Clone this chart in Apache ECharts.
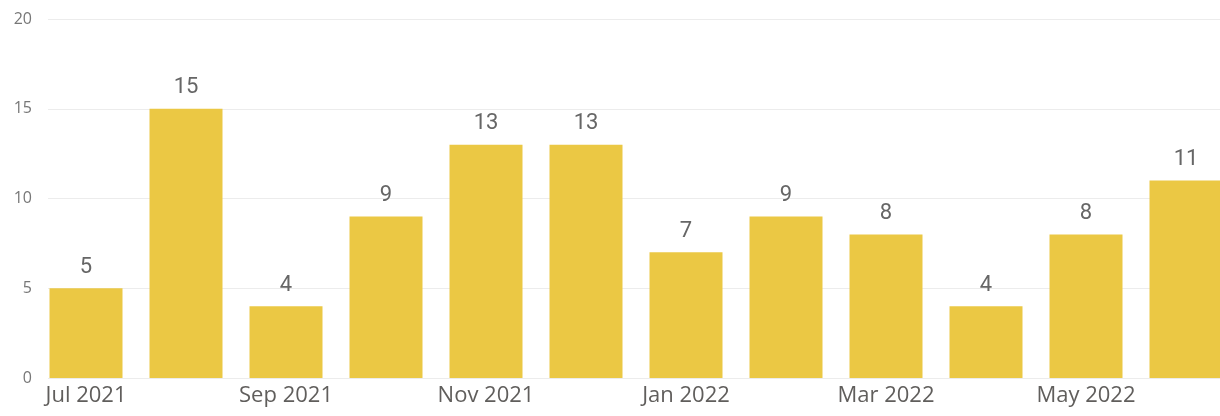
<!DOCTYPE html>
<html>
<head>
<meta charset="utf-8">
<script src="https://cdn.jsdelivr.net/npm/echarts@6/dist/echarts.min.js"></script>
<style>
  html, body { margin: 0; padding: 0; background: #fff; }
  #chart { width: 1220px; height: 416px; }
</style>
</head>
<body>
<div id="chart"></div>
<script>
const months = ["Jul 2021", "Aug 2021", "Sep 2021", "Oct 2021", "Nov 2021", "Dec 2021",
  "Jan 2022", "Feb 2022", "Mar 2022", "Apr 2022", "May 2022", "Jun 2022"];
const counts = [5, 15, 4, 9, 13, 13, 7, 9, 8, 4, 8, 11];
const yTicks = [0, 5, 10, 15, 20];

const chart = echarts.init(document.getElementById("chart"));
const option = {
  animation: false,
  grid: [
    // bars (last bar runs past the right edge like the original)
    { left: 36, width: 1200, top: 19, bottom: 38, outerBoundsMode: "none" },
    // gridlines + y labels
    { left: 48, right: 0, top: 19, bottom: 38 },
  ],
  xAxis: [
    {
      gridIndex: 0,
      type: "category",
      data: months,
      axisLine: { show: false },
      axisTick: { show: false },
      axisLabel: {
        interval: 1,
        margin: 7,
        color: "#605E5C",
        fontFamily: "Open Sans",
        fontSize: 22,
      },
    },
    { gridIndex: 1, type: "value", show: false },
  ],
  yAxis: [
    {
      gridIndex: 0,
      type: "value",
      min: yTicks[0],
      max: yTicks[yTicks.length - 1],
      interval: 5,
      show: false,
    },
    {
      gridIndex: 1,
      type: "value",
      min: yTicks[0],
      max: yTicks[yTicks.length - 1],
      interval: 5,
      axisLine: { show: false },
      axisTick: { show: false },
      axisLabel: {
        margin: 16,
        color: "#777777",
        fontFamily: "Open Sans",
        fontSize: 16,
      },
      splitLine: { lineStyle: { color: "#ECECEC", width: 1 } },
    },
  ],
  series: [
    {
      type: "bar",
      xAxisIndex: 0,
      yAxisIndex: 0,
      data: counts,
      barWidth: 73,
      itemStyle: { color: "#EBC844" },
      label: {
        show: true,
        position: "top",
        distance: 10,
        color: "#666666",
        fontFamily: "Roboto",
        fontSize: 22,
      },
    },
  ],
};
chart.setOption(option);
</script>
</body>
</html>
